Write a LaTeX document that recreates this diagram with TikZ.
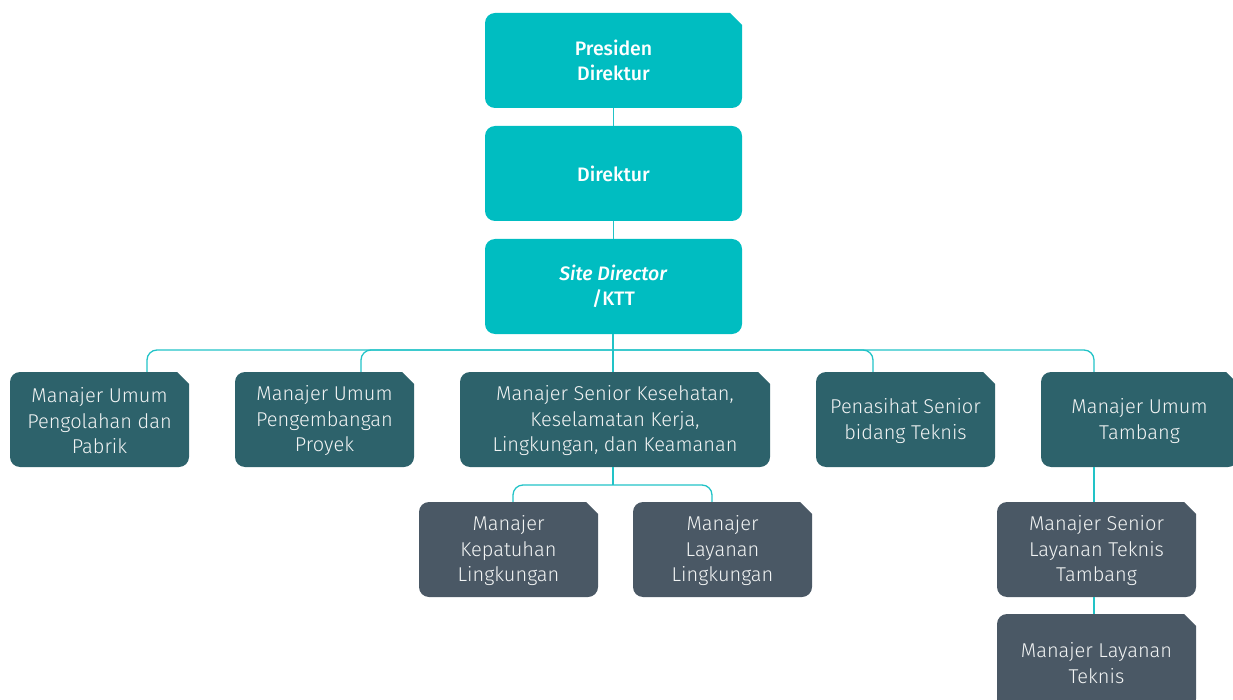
\documentclass[tikz,border=0pt]{standalone}
\usepackage{fontspec}
\setmainfont{Fira Sans}[UprightFont=* Light, BoldFont=* Medium, ItalicFont=* Light Italic, BoldItalicFont=* Medium Italic]
\definecolor{topteal}{HTML}{00BDC1}
\definecolor{darkteal}{HTML}{2D626B}
\definecolor{slate}{HTML}{4A5865}
\definecolor{lineteal}{HTML}{22C3C7}
\definecolor{txtwhite}{HTML}{F2F4F4}
\tikzset{
  boxtext/.style={inner sep=0pt, align=center, text=txtwhite, font=\fontsize{20}{25.5}\selectfont},
  toptext/.style={inner sep=0pt, align=center, text=white, font=\fontsize{19.5}{25}\selectfont\bfseries},
  conn/.style={draw=lineteal, line width=1.3pt}
}
% chamfered box shape: x1, y1, x2, y2, colour
\newcommand\chshape[5]{%
  \fill[#5] ({#3-12},#2) -- ({#1+10},#2) arc[start angle=270, end angle=180, radius=10]
    -- (#1,{#4-10}) arc[start angle=180, end angle=90, radius=10]
    -- ({#3-10},#4) arc[start angle=90, end angle=0, radius=10]
    -- (#3,{#2+12}) -- cycle;}
% chamfered box: name, x1, y1, x2, y2, colour, text
\newcommand\cbox[7]{%
  \chshape{#2}{#3}{#4}{#5}{#6}
  \node[boxtext, minimum width={#4-#2}, minimum height={#5-#3}] (#1) at ({(#2+#4)/2},{(#3+#5)/2+1.5}) {#7};}
% rounded box: name, x1, y1, x2, y2, colour, text
\newcommand\rbox[7]{%
  \fill[#6, rounded corners=10pt] (#2,#3) rectangle (#4,#5);
  \node[toptext, minimum width={#4-#2}, minimum height={#5-#3}] (#1) at ({(#2+#4)/2},{(#3+#5)/2}) {#7};}
\begin{document}
\begin{tikzpicture}[x=1pt,y=-1pt]
\useasboundingbox (0,0) rectangle (1233,700);
% top chain
\chshape{485}{13}{742}{108}{topteal}
\node[toptext, minimum width=257, minimum height=95] (pres) at (613.5,60.5) {Presiden\\Direktur};
\rbox{dir}{485}{126}{742}{221}{topteal}{Direktur}
\rbox{site}{485}{239}{742}{334}{topteal}{\textit{Site Director}\\/KTT}
% second row
\cbox{mpp}{10}{372}{189}{467}{darkteal}{Manajer Umum\\Pengolahan dan\\Pabrik}
\cbox{mpr}{235}{372}{414}{467}{darkteal}{Manajer Umum\\Pengembangan\\Proyek}
\cbox{mk3}{460}{372}{770}{467}{darkteal}{Manajer Senior Kesehatan,\\Keselamatan Kerja,\\Lingkungan, dan Keamanan}
\cbox{pst}{816}{372}{995}{467}{darkteal}{Penasihat Senior\\bidang Teknis}
\cbox{mut}{1041}{372}{1238}{467}{darkteal}{Manajer Umum\\Tambang}
% third row
\cbox{mkl}{419}{502}{598}{597}{slate}{Manajer\\Kepatuhan\\Lingkungan}
\cbox{mll}{633}{502}{812}{597}{slate}{Manajer\\Layanan\\Lingkungan}
\cbox{mslt}{997}{502}{1196}{597}{slate}{Manajer Senior\\Layanan Teknis\\Tambang}
\cbox{mlt}{997}{614}{1196}{709}{slate}{Manajer Layanan\\Teknis}
% bus coordinates
\coordinate (ba) at (147,350);
\coordinate (bb) at (361,350);
\coordinate (bc) at (613,350);
\coordinate (bd) at (873,350);
\coordinate (be) at (1094,350);
\coordinate (cf) at (513,485);
\coordinate (cm) at (613,485);
\coordinate (cg) at (712,485);
% connectors
\draw[conn] (pres.south) -- (dir.north);
\draw[conn] (dir.south) -- (site.north);
\draw[conn] (site.south -| bc) -- (bc);
\draw[conn] (bc) -- ([yshift=1.5pt]mk3.north -| bc);
\draw[conn, rounded corners=10pt] ([yshift=1.5pt]mpp.north -| ba) -- (ba) -- (bc);
\draw[conn, rounded corners=10pt] ([yshift=1.5pt]mpr.north -| bb) -- (bb) -- (bc);
\draw[conn, rounded corners=10pt] (bc) -- (bd) -- ([yshift=1.5pt]pst.north -| bd);
\draw[conn, rounded corners=10pt] (bc) -- (be) -- ([yshift=1.5pt]mut.north -| be);
\draw[conn] ([yshift=1.5pt]mk3.south -| cm) -- (cm);
\draw[conn, rounded corners=10pt] ([yshift=1.5pt]mkl.north -| cf) -- (cf) -- (cg) -- ([yshift=1.5pt]mll.north -| cg);
\draw[conn] ([yshift=1.5pt]mut.south -| be) -- ([yshift=1.5pt]mslt.north -| be);
\draw[conn] ([yshift=1.5pt]mslt.south -| be) -- ([yshift=1.5pt]mlt.north -| be);
\end{tikzpicture}
\end{document}
